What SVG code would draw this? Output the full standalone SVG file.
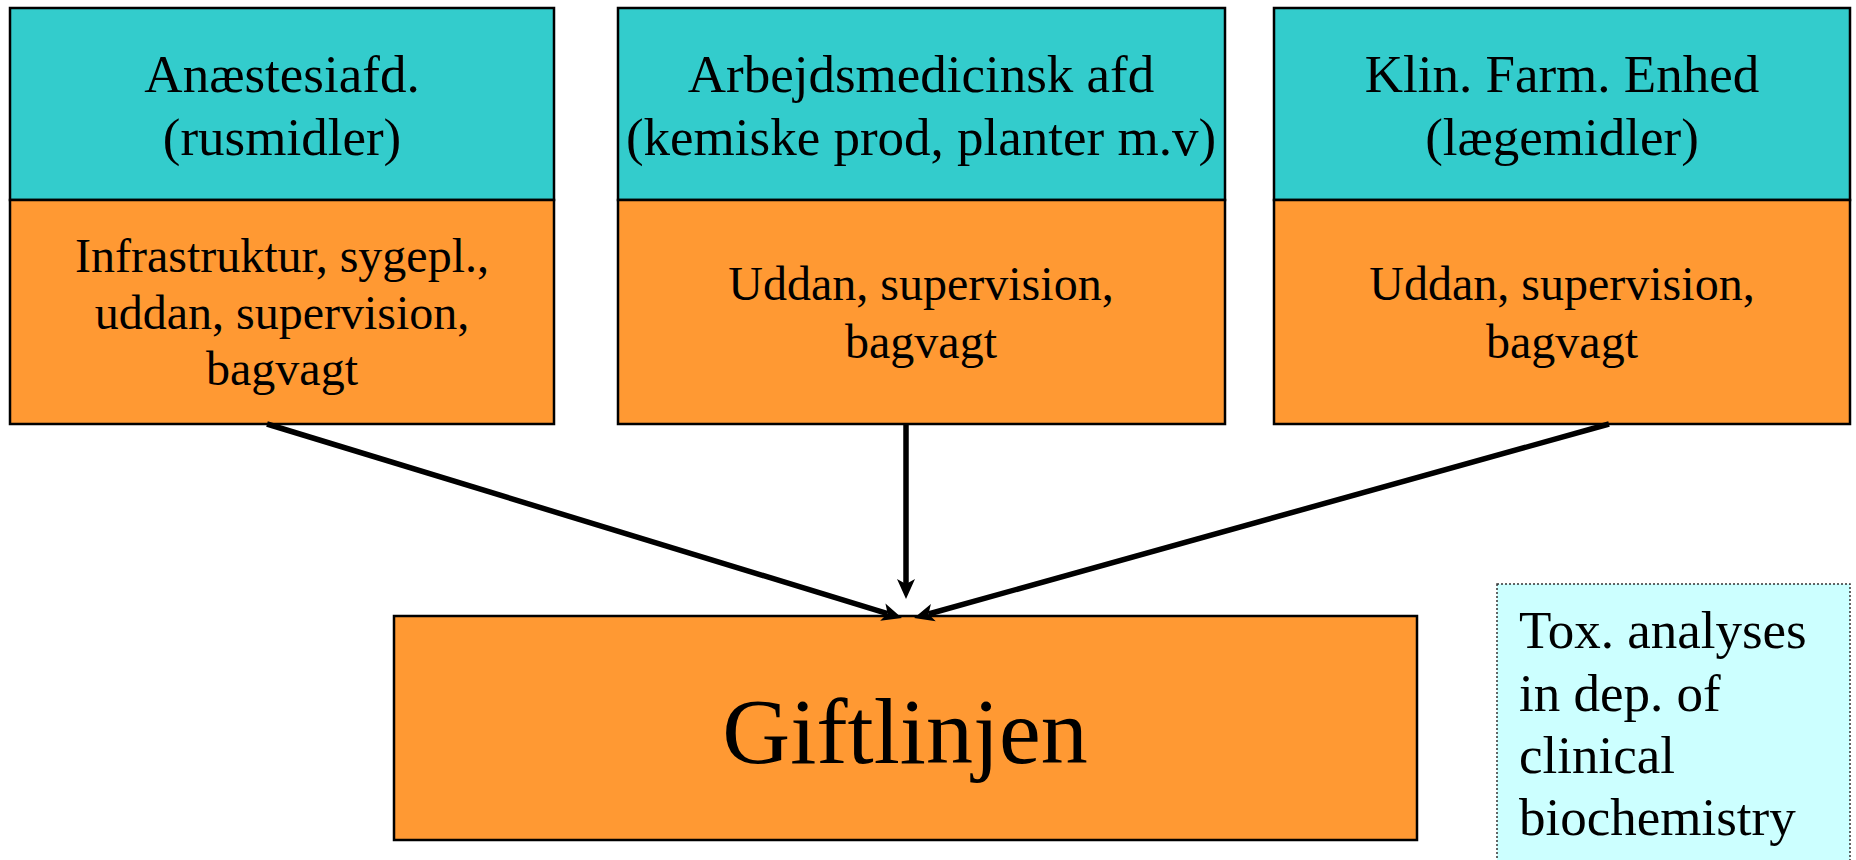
<svg xmlns="http://www.w3.org/2000/svg" width="1856" height="860" viewBox="0 0 1856 860">
<style>
.hd{fill:#33CCCC;stroke:#000;stroke-width:2.5}
.bd{fill:#FF9933;stroke:#000;stroke-width:2.5}
.t{font-family:"Liberation Serif","Times New Roman",serif;fill:#000;text-anchor:middle}
.h{font-size:53px}
.b{font-size:48px}
.con{stroke:#000;fill:none;stroke-width:5.5}
</style>
<defs>
<marker id="ah" markerUnits="userSpaceOnUse" markerWidth="24" markerHeight="22" viewBox="0 -11 22 22" refX="5" refY="0" orient="auto">
<path d="M0,-9 L20,0 L0,9 L5,0 z" fill="#000"/>
</marker>
</defs>
<rect width="1856" height="860" fill="#fff"/>
<g id="n1">
<rect class="hd" x="10" y="8" width="544" height="192"/>
<rect class="bd" x="10" y="200" width="544" height="224"/>
<text class="t h" x="282" y="92">Anæstesiafd.</text>
<text class="t h" x="282" y="155">(rusmidler)</text>
<text class="t b" x="282" y="272">Infrastruktur, sygepl.,</text>
<text class="t b" x="282" y="329">uddan, supervision,</text>
<text class="t b" x="282" y="385">bagvagt</text>
</g>
<g id="n2">
<rect class="hd" x="618" y="8" width="607" height="192"/>
<rect class="bd" x="618" y="200" width="607" height="224"/>
<text class="t h" x="921" y="92">Arbejdsmedicinsk afd</text>
<text class="t h" x="921" y="155">(kemiske prod, planter m.v)</text>
<text class="t b" x="921" y="300">Uddan, supervision,</text>
<text class="t b" x="921" y="358">bagvagt</text>
</g>
<g id="n3">
<rect class="hd" x="1274" y="8" width="576" height="192"/>
<rect class="bd" x="1274" y="200" width="576" height="224"/>
<text class="t h" x="1562" y="92">Klin. Farm. Enhed</text>
<text class="t h" x="1562" y="155">(lægemidler)</text>
<text class="t b" x="1562" y="300">Uddan, supervision,</text>
<text class="t b" x="1562" y="358">bagvagt</text>
</g>
<g id="n4">
<rect class="bd" x="394" y="616" width="1023" height="224"/>
<text class="t" style="font-size:94px" x="905" y="763">Giftlinjen</text>
</g>
<g id="n5">
<rect x="1497" y="584" width="353" height="290" fill="#CCFFFF" stroke="#333" stroke-width="1.5" stroke-dasharray="2,2"/>
<text class="t h" style="text-anchor:start" x="1519" y="648">Tox. analyses</text>
<text class="t h" style="text-anchor:start" x="1519" y="711">in dep. of</text>
<text class="t h" style="text-anchor:start" x="1519" y="773">clinical</text>
<text class="t h" style="text-anchor:start" x="1519" y="835">biochemistry</text>
</g>
<g id="connectors">
<line class="con" x1="267" y1="424" x2="887.6" y2="613.6" marker-end="url(#ah)"/>
<line class="con" x1="906" y1="424" x2="906" y2="584" marker-end="url(#ah)"/>
<line class="con" x1="1609" y1="424" x2="928.5" y2="614" marker-end="url(#ah)"/>
</g>
</svg>
